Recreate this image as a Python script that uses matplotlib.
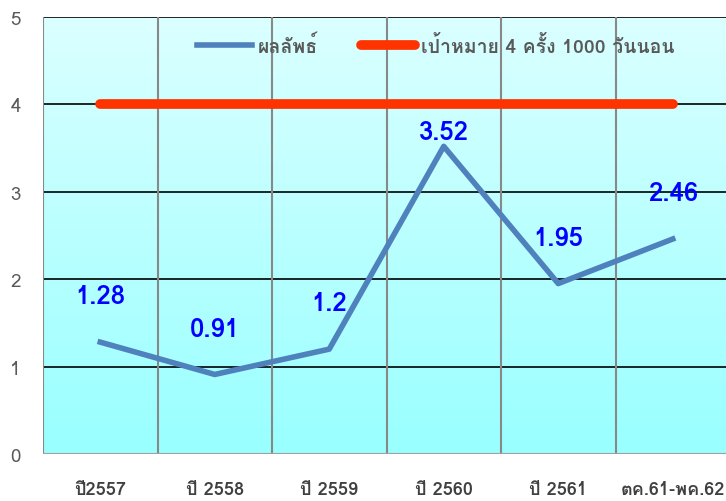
import matplotlib
matplotlib.use("Agg")
import matplotlib.pyplot as plt
from matplotlib import font_manager
from matplotlib.colors import LinearSegmentedColormap
from fontTools.ttLib import TTFont
import numpy as np

categories = ["ปี2557", "ปี 2558", "ปี 2559", "ปี 2560", "ปี 2561", "ตค.61-พค.62"]
results = [1.28, 0.91, 1.2, 3.52, 1.95, 2.46]
target = [4, 4, 4, 4, 4, 4]
result_name = "ผลลัพธ์"
target_name = "เป้าหมาย 4 ครั้ง 1000 วันนอน"


# look for any installed font that has Thai glyphs
def thai_fonts():
    found = []
    for f in font_manager.fontManager.ttflist:
        try:
            tt = TTFont(f.fname, fontNumber=0, lazy=True)
            cmap = tt.getBestCmap() or {}
            if 0x0E1C in cmap and 0x0E35 in cmap:
                found.append(f.name)
        except Exception:
            pass
    return list(dict.fromkeys(found))


families = thai_fonts() + ["Liberation Sans", "DejaVu Sans"]
plt.rcParams["font.family"] = families

fig = plt.figure(figsize=(7.26, 5.02), dpi=100)
W, H = 726, 502
left, top, bottom = 43, 18, 455
right = 43 + 6 * 114.5
ax = fig.add_axes([left / W, 1 - bottom / H, (right - left) / W, (bottom - top) / H])

x = np.arange(len(categories))
ax.set_xlim(-0.5, len(categories) - 0.5)
ax.set_ylim(0, 5)

# gradient fill of the plot area
cmap = LinearSegmentedColormap.from_list("bg", ["#99ffff", "#dbffff"])
grad = np.linspace(0, 1, 256).reshape(-1, 1)
ax.imshow(grad, extent=(-0.5, len(categories) - 0.5, 0, 5), origin="lower",
          aspect="auto", cmap=cmap, zorder=0)

# grid lines
for y in range(1, 6):
    ax.axhline(y, color="black", lw=1.2, zorder=1)
for b in np.arange(-0.5, len(categories), 1.0):
    ax.axvline(b, color="#888888", lw=1.5, zorder=1)

for s in ax.spines.values():
    s.set_visible(False)
ax.axhline(0, color="#a0a0a0", lw=1.5, zorder=1)

ax.plot(x, target, color="#ff3300", lw=7, solid_capstyle="round", zorder=3,
        label=target_name)
ax.plot(x, results, color="#4f81bd", lw=4, zorder=4, label=result_name)

# value labels, the peak one sits closer to its point
offsets = [33, 33, 33, 10, 33, 33]
for xi, v, off in zip(x, results, offsets):
    ax.annotate(f"{v:g}", (xi, v), xytext=(0, off), textcoords="offset points",
                ha="center", va="center", color="#0000ff", fontsize=18.5,
                fontweight="bold", zorder=5)

ax.set_yticks(range(0, 6))
ax.tick_params(axis="y", length=0, pad=16, labelsize=13.5, labelcolor="#595959")
ax.set_xticks(x)
ax.set_xticklabels(categories, fontweight="bold")
ax.tick_params(axis="x", length=0, pad=19, labelsize=13, labelcolor="#404040")

handles, labels = ax.get_legend_handles_labels()
leg = ax.legend(handles[::-1], labels[::-1], loc="upper center", ncol=2,
                bbox_to_anchor=(0.572, 1.0), frameon=False,
                handlelength=2.8, columnspacing=2.2, handletextpad=0.3,
                prop={"weight": "bold", "size": 14})
for t in leg.get_texts():
    t.set_color("#595959")

fig.savefig("out.png", dpi=100)
